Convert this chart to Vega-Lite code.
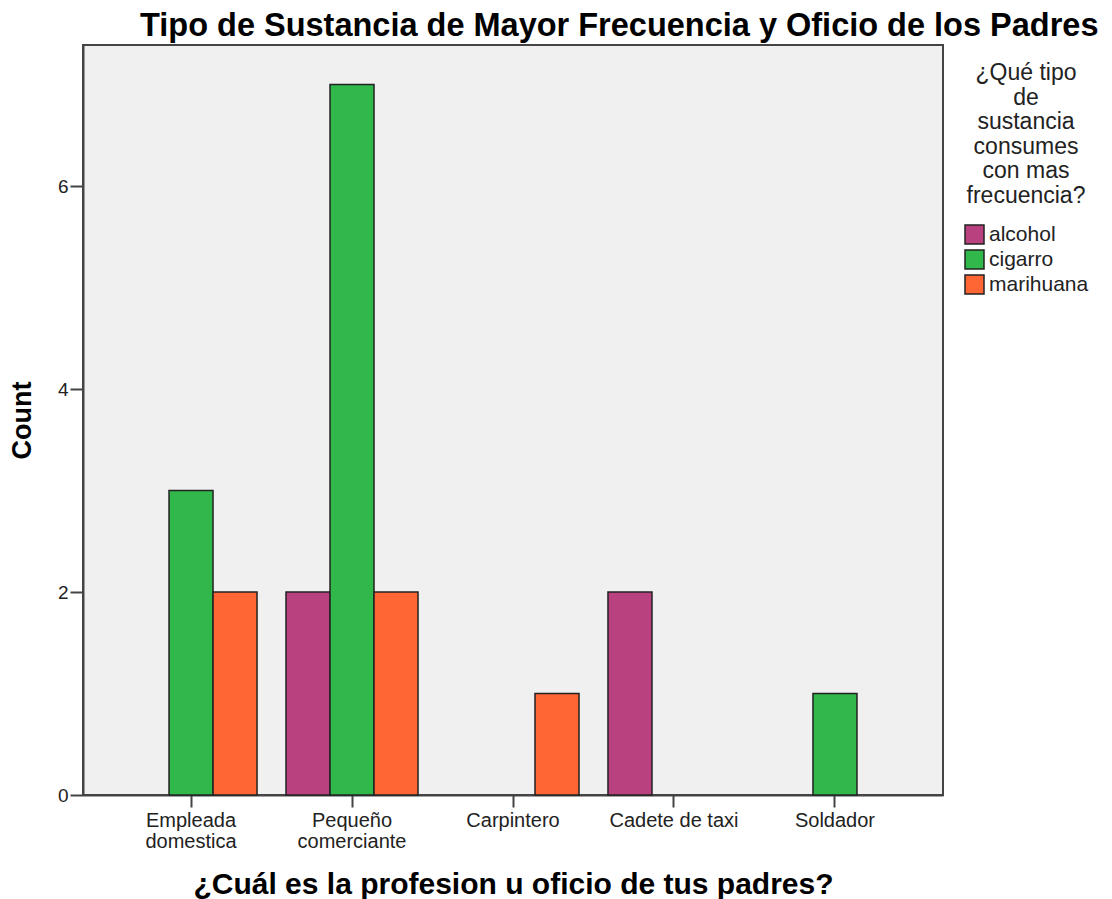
{
  "$schema": "https://vega.github.io/schema/vega-lite/v6.json",
  "autosize": "none",
  "width": 860,
  "height": 750,
  "padding": {"left": 83, "top": 45, "right": 169, "bottom": 104},
  "background": "white",
  "title": {
    "text": "Tipo de Sustancia de Mayor Frecuencia y Oficio de los Padres",
    "anchor": "start",
    "frame": "group",
    "dx": 57,
    "offset": 3,
    "font": "Liberation Sans",
    "fontSize": 32.5,
    "fontWeight": "bold",
    "color": "#000000"
  },
  "config": {
    "view": {"fill": "#f0f0f0", "stroke": "#444444", "strokeWidth": 2},
    "font": "Liberation Sans"
  },
  "data": {
    "values": [
      {"oficio": "Empleada domestica", "sustancia": "cigarro", "count": 3},
      {"oficio": "Empleada domestica", "sustancia": "marihuana", "count": 2},
      {"oficio": "Pequeño comerciante", "sustancia": "alcohol", "count": 2},
      {"oficio": "Pequeño comerciante", "sustancia": "cigarro", "count": 7},
      {"oficio": "Pequeño comerciante", "sustancia": "marihuana", "count": 2},
      {"oficio": "Carpintero", "sustancia": "marihuana", "count": 1},
      {"oficio": "Cadete de taxi", "sustancia": "alcohol", "count": 2},
      {"oficio": "Soldador", "sustancia": "cigarro", "count": 1}
    ]
  },
  "mark": {"type": "bar", "stroke": "#222222", "strokeWidth": 1.5},
  "encoding": {
    "x": {
      "field": "oficio",
      "type": "nominal",
      "sort": ["Empleada domestica", "Pequeño comerciante", "Carpintero", "Cadete de taxi", "Soldador"],
      "scale": {"domain": ["Empleada domestica", "Pequeño comerciante", "Carpintero", "Cadete de taxi", "Soldador"], "paddingInner": 0.18, "paddingOuter": 0.261},
      "axis": {
        "title": "¿Cuál es la profesion u oficio de tus padres?",
        "titleFont": "Liberation Sans",
        "titleFontSize": 30,
        "titleFontWeight": "bold",
        "titleColor": "#000000",
        "titlePadding": 18,
        "labelAngle": 0,
        "labelFontSize": 20,
        "labelColor": "#222222",
        "labelLineHeight": 21,
        "labelPadding": 3,
        "labelExpr": "datum.label == 'Empleada domestica' ? ['Empleada', 'domestica'] : datum.label == 'Pequeño comerciante' ? ['Pequeño', 'comerciante'] : datum.label",
        "tickSize": 12,
        "tickWidth": 2,
        "tickColor": "#444444",
        "domainColor": "#444444",
        "domainWidth": 2
      }
    },
    "xOffset": {
      "field": "sustancia",
      "type": "nominal",
      "scale": {"domain": ["alcohol", "cigarro", "marihuana"], "paddingInner": 0, "paddingOuter": 0}
    },
    "y": {
      "field": "count",
      "type": "quantitative",
      "scale": {"domain": [0, 7.39], "nice": false},
      "axis": {
        "title": "Count",
        "titleFont": "Liberation Sans",
        "titleFontSize": 27,
        "titleFontWeight": "bold",
        "titleColor": "#000000",
        "titlePadding": 21,
        "values": [0, 2, 4, 6],
        "grid": false,
        "labelFontSize": 19,
        "labelColor": "#222222",
        "labelPadding": 2,
        "tickSize": 13,
        "tickWidth": 2,
        "tickColor": "#444444",
        "domainColor": "#444444",
        "domainWidth": 2
      }
    },
    "color": {
      "field": "sustancia",
      "type": "nominal",
      "scale": {"domain": ["alcohol", "cigarro", "marihuana"], "range": ["#b9417f", "#30b84a", "#ff6633"]},
      "legend": {
        "title": ["¿Qué tipo", "de", "sustancia", "consumes", "con mas", "frecuencia?"],
        "orient": "none",
        "legendX": 881,
        "legendY": 17,
        "titleFont": "Liberation Sans",
        "titleFontSize": 23,
        "titleFontWeight": "normal",
        "titleColor": "#222222",
        "titleLineHeight": 24.6,
        "titleAlign": "center",
        "titleAnchor": "middle",
        "titlePadding": 16,
        "titleLimit": 300,
        "symbolType": "square",
        "symbolSize": 361,
        "symbolStrokeColor": "#222222",
        "symbolStrokeWidth": 1.5,
        "labelFont": "Liberation Sans",
        "labelFontSize": 21,
        "labelColor": "#222222",
        "labelOffset": 4,
        "rowPadding": 0
      }
    }
  }
}
